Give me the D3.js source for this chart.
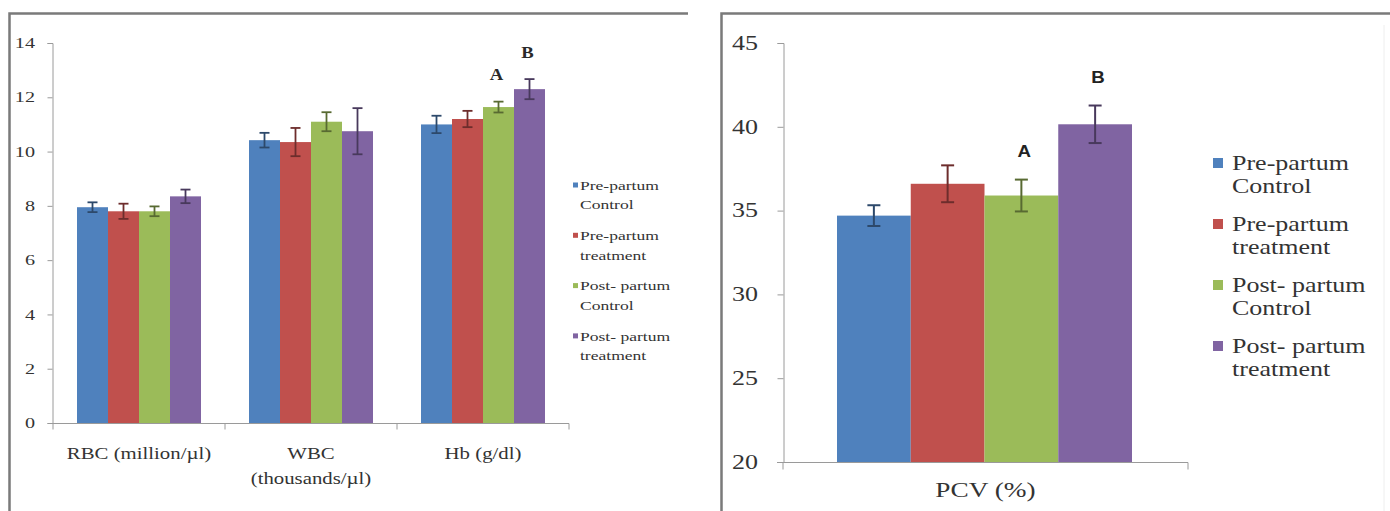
<!DOCTYPE html>
<html>
<head>
<meta charset="utf-8">
<script src="https://cdn.jsdelivr.net/npm/d3@7"></script>
<style>
  html, body { margin: 0; padding: 0; background: #fff; }
  svg { display: block; }
</style>
</head>
<body>
<svg id="chart" width="1390" height="511"></svg>
<script>
// ---------- DATA ----------
const seriesNames = ["Pre-partum Control", "Pre-partum treatment", "Post- partum Control", "Post- partum treatment"];
const legendLines = [["Pre-partum", "Control"], ["Pre-partum", "treatment"], ["Post- partum", "Control"], ["Post- partum", "treatment"]];
const seriesColors = ["#4F81BD", "#C0504D", "#9BBB59", "#8064A2"];

// Left chart
const leftCategories = ["RBC (million/µl)", "WBC (thousands/µl)", "Hb (g/dl)"];
const leftCategoryLines = [["RBC (million/µl)"], ["WBC", "(thousands/µl)"], ["Hb (g/dl)"]];
const preControl    = [7.95, 10.42, 11.0];
const preTreatment  = [7.80, 10.35, 11.2];
const postControl   = [7.80, 11.10, 11.64];
const postTreatment = [8.35, 10.75, 12.30];
const preControlErr    = [0.18, 0.27, 0.32];
const preTreatmentErr  = [0.28, 0.52, 0.30];
const postControlErr   = [0.18, 0.35, 0.20];
const postTreatmentErr = [0.25, 0.85, 0.37];
const leftTicks = [0, 2, 4, 6, 8, 10, 12, 14];
const leftLetters = [ {cat: "Hb (g/dl)", series: 2, text: "A"}, {cat: "Hb (g/dl)", series: 3, text: "B"} ];

// Right chart
const rightCategories = ["PCV (%)"];
const pcvValues = [34.7, 36.6, 35.9, 40.15];
const pcvErr = [0.62, 1.1, 0.95, 1.12];
const rightTicks = [20, 25, 30, 35, 40, 45];
const rightLetters = [ {series: 2, text: "A"}, {series: 3, text: "B"} ];

// ---------- DRAW ----------
const svg = d3.select("#chart");
const STRETCH = 1.3;

function stretchedText(parent, x, y, str, opts) {
  const g = parent.append("g").attr("transform", `translate(${x},${y})`);
  const t = g.append("text")
    .attr("transform", `scale(${opts.stretch || STRETCH},1)`)
    .attr("text-anchor", opts.anchor || "start")
    .attr("dominant-baseline", "central")
    .attr("font-family", opts.family || "'Liberation Serif', 'Times New Roman', serif")
    .attr("font-size", opts.size)
    .attr("font-weight", opts.weight || "normal")
    .attr("fill", opts.fill || "#333")
    .text(str);
  return t;
}

// Panel borders
svg.append("path").attr("d", "M9.5,520 V13.5 H688").attr("fill", "none").attr("stroke", "#7a7a7a").attr("stroke-width", 2.5);
svg.append("path").attr("d", "M721.5,520 V13.5 H1390").attr("fill", "none").attr("stroke", "#7a7a7a").attr("stroke-width", 2.5);
svg.append("line").attr("x1", 1384).attr("x2", 1384).attr("y1", 25).attr("y2", 511).attr("stroke", "#eee").attr("stroke-width", 1);

// ===== LEFT CHART =====
const leftSeries = [preControl, preTreatment, postControl, postTreatment];
const leftErrs = [preControlErr, preTreatmentErr, postControlErr, postTreatmentErr];

const xL0 = d3.scaleBand().domain(leftCategories).range([53, 569]).padding(0);
const xL1 = d3.scaleBand().domain(d3.range(4)).range([24, 148]).padding(0);
const yL = d3.scaleLinear().domain([0, 14]).range([423, 43]);

const gL = svg.append("g");

// y axis
const yAxisL = gL.append("g").attr("transform", "translate(52.5,0)")
  .call(d3.axisLeft(yL).tickValues(leftTicks).tickSize(5).tickFormat(""));
yAxisL.select(".domain").attr("stroke", "#9a9a9a");
yAxisL.selectAll(".tick line").attr("stroke", "#9a9a9a");
leftTicks.forEach(t => stretchedText(gL, 35, yL(t), String(t), {size: 15.5, anchor: "end", fill: "#333"}));

// bars
const leftData = [];
leftCategories.forEach((c, ci) => {
  leftSeries.forEach((s, si) => leftData.push({cat: c, si, v: s[ci], e: leftErrs[si][ci]}));
});
gL.selectAll("rect.bar").data(leftData).join("rect")
  .attr("class", "bar")
  .attr("x", d => xL0(d.cat) + xL1(d.si))
  .attr("width", xL1.bandwidth())
  .attr("y", d => yL(d.v))
  .attr("height", d => yL(0) - yL(d.v))
  .attr("fill", d => seriesColors[d.si]);

// x axis
const xAxisL = gL.append("g").attr("transform", "translate(0,423.5)");
xAxisL.append("line").attr("x1", 50).attr("x2", 569).attr("stroke", "#9a9a9a");
[...leftCategories.map(c => xL0(c)), xL0.range()[1]].forEach(x =>
  xAxisL.append("line").attr("x1", x).attr("x2", x).attr("y1", 0).attr("y2", 6).attr("stroke", "#9a9a9a"));

// error bars
const capL = 5;
leftData.forEach(d => {
  const cx = xL0(d.cat) + xL1(d.si) + xL1.bandwidth() / 2;
  const col = d3.color(seriesColors[d.si]).darker(1.6).toString();
  const g = gL.append("g").attr("stroke", col).attr("stroke-width", 1.8);
  g.append("line").attr("x1", cx).attr("x2", cx).attr("y1", yL(d.v + d.e)).attr("y2", yL(d.v - d.e));
  g.append("line").attr("x1", cx - capL).attr("x2", cx + capL).attr("y1", yL(d.v + d.e)).attr("y2", yL(d.v + d.e));
  g.append("line").attr("x1", cx - capL).attr("x2", cx + capL).attr("y1", yL(d.v - d.e)).attr("y2", yL(d.v - d.e));
});

// category labels
leftCategories.forEach((c, ci) => {
  const cx = xL0(c) + xL0.bandwidth() / 2;
  leftCategoryLines[ci].forEach((line, li) =>
    stretchedText(gL, cx, 453 + li * 25, line, {size: 16, anchor: "middle", fill: "#333"}));
});

// letters
leftLetters.forEach(l => {
  const ci = leftCategories.indexOf(l.cat);
  const v = leftSeries[l.series][ci], e = leftErrs[l.series][ci];
  const cx = xL0(l.cat) + xL1(l.series) + xL1.bandwidth() / 2;
  stretchedText(gL, cx - 2, yL(v + e) - 27, l.text, {size: 17, anchor: "middle", weight: "bold", fill: "#2a2a2a", stretch: 1.1});
});

// legend
legendLines.forEach((lines, i) => {
  const cy = 185 + i * 50.3;
  gL.append("rect").attr("x", 573).attr("y", cy - 2.5).attr("width", 5).attr("height", 5).attr("fill", seriesColors[i]);
  lines.forEach((ln, li) => stretchedText(gL, 580, cy + li * 19.5, ln, {size: 13.5, fill: "#333"}));
});

// ===== RIGHT CHART =====
const xR0 = d3.scaleBand().domain(rightCategories).range([783, 1188]).padding(0);
const xR1 = d3.scaleBand().domain(d3.range(4)).range([54, 349]).padding(0);
const yR = d3.scaleLinear().domain([20, 45]).range([462, 43]);

const gR = svg.append("g");
const yAxisR = gR.append("g").attr("transform", "translate(783.5,0)")
  .call(d3.axisLeft(yR).tickValues(rightTicks).tickSize(6).tickFormat(""));
yAxisR.select(".domain").attr("stroke", "#9a9a9a");
yAxisR.selectAll(".tick line").attr("stroke", "#9a9a9a");
rightTicks.forEach(t => stretchedText(gR, 758, yR(t), String(t), {size: 20, anchor: "end", fill: "#333"}));

const rightData = pcvValues.map((v, si) => ({cat: rightCategories[0], si, v, e: pcvErr[si]}));
gR.selectAll("rect.bar").data(rightData).join("rect")
  .attr("class", "bar")
  .attr("x", d => xR0(d.cat) + xR1(d.si))
  .attr("width", xR1.bandwidth())
  .attr("y", d => yR(d.v))
  .attr("height", d => yR(20) - yR(d.v))
  .attr("fill", d => seriesColors[d.si]);

const xAxisR = gR.append("g").attr("transform", "translate(0,462.5)");
xAxisR.append("line").attr("x1", 777).attr("x2", 1188).attr("stroke", "#9a9a9a");
[xR0.range()[0], xR0.range()[1]].forEach(x =>
  xAxisR.append("line").attr("x1", x).attr("x2", x).attr("y1", 0).attr("y2", 7).attr("stroke", "#9a9a9a"));

const capR = 6.5;
rightData.forEach(d => {
  const cx = xR0(d.cat) + xR1(d.si) + xR1.bandwidth() / 2;
  const col = d3.color(seriesColors[d.si]).darker(1.6).toString();
  const g = gR.append("g").attr("stroke", col).attr("stroke-width", 2);
  g.append("line").attr("x1", cx).attr("x2", cx).attr("y1", yR(d.v + d.e)).attr("y2", yR(d.v - d.e));
  g.append("line").attr("x1", cx - capR).attr("x2", cx + capR).attr("y1", yR(d.v + d.e)).attr("y2", yR(d.v + d.e));
  g.append("line").attr("x1", cx - capR).attr("x2", cx + capR).attr("y1", yR(d.v - d.e)).attr("y2", yR(d.v - d.e));
});

stretchedText(gR, xR0(rightCategories[0]) + xR0.bandwidth() / 2, 490, rightCategories[0], {size: 21, anchor: "middle", fill: "#333"});

rightLetters.forEach(l => {
  const d = rightData[l.series];
  const cx = xR0(d.cat) + xR1(d.si) + xR1.bandwidth() / 2;
  stretchedText(gR, cx + 3, yR(d.v + d.e) - 28, l.text, {size: 17, anchor: "middle", weight: "bold", fill: "#222", family: "'Liberation Sans', Arial, sans-serif", stretch: 1.1});
});

legendLines.forEach((lines, i) => {
  const cy = 163 + i * 61;
  gR.append("rect").attr("x", 1213).attr("y", cy - 5).attr("width", 10).attr("height", 10).attr("fill", seriesColors[i]);
  lines.forEach((ln, li) => stretchedText(gR, 1232, cy + li * 23.5, ln, {size: 20, fill: "#333"}));
});
</script>
</body>
</html>
